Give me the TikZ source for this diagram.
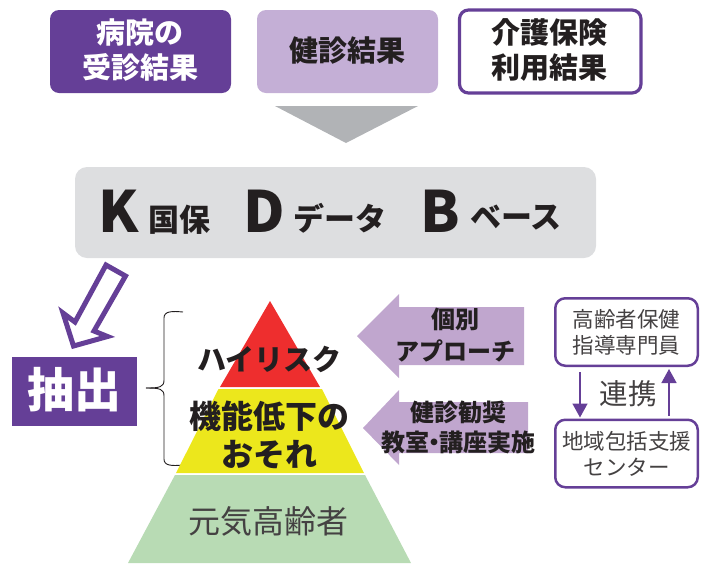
\documentclass[tikz,border=0pt]{standalone}
\usepackage{fontspec}
\usetikzlibrary{arrows.meta}
\setmainfont{Noto Sans CJK JP}
\definecolor{purp}{HTML}{653F97}
\definecolor{lav}{HTML}{C0A6CE}
\definecolor{lavb}{HTML}{C4AFD6}
\definecolor{gbox}{HTML}{DDDEE0}
\definecolor{garr}{HTML}{B1B3B6}
\definecolor{tri1}{HTML}{EE2E2E}
\definecolor{tri2}{HTML}{ECE71C}
\definecolor{tri3}{HTML}{B8DBB4}
\definecolor{ink}{HTML}{231F20}
\tikzset{x=1pt,y=-1pt,
 lbl/.style={inner sep=0pt,align=center,text=ink},
 rr/.style={rounded corners=9pt},
 parr/.style={fill=lav,draw=none},
 tbox/.style={lbl,font=\bfseries\fontsize{29}{35}\selectfont},
 big/.style={lbl,font=\bfseries\fontsize{57}{60}\selectfont},
 small/.style={lbl,font=\bfseries\fontsize{31}{34}\selectfont},
 sbox/.style={draw=purp,line width=2.5pt,rounded corners=10pt,minimum width=142.5pt,minimum height=67.5pt,inner sep=0pt,align=center,text=ink!85,font=\fontsize{21.5}{26}\selectfont},
 link/.style={purp,line width=1.5pt,-{Triangle[length=14pt,width=15pt]}}}
\begin{document}
\begin{tikzpicture}
\useasboundingbox (0,0) rectangle (707,563);
% top boxes
\fill[purp,rr] (50,10) rectangle (231,93);
\node[tbox,text=white] (a) at (140,50) {病院の\\受診結果};
\fill[lavb,rr] (257,10) rectangle (438,93);
\node[tbox] (b) at (347,51) {健診結果};
\draw[purp,line width=3.2pt,rr,fill=white] (459.5,10) rectangle (641,93);
\node[tbox] (c) at (549,50) {介護保険\\利用結果};
% grey down triangle
\fill[garr] (275,106) -- (418,106) -- (346,143) -- cycle;
% KDB
\fill[gbox,rounded corners=12pt] (75,167) rectangle (596,258);
\node[big] (k) at (119,211) {K};
\node[small] (k2) at (179,220) {国保};
\node[big] (d) at (264,211) {D};
\node[small] (d2) at (340,218) {データ};
\node[big] (bb) at (440,211) {B};
\node[small] (b2) at (516,218) {ベース};
% hollow arrow
\draw[purp,line width=5pt,fill=white,line join=miter] (106,265) -- (125.5,276) -- (94,331) -- (107.5,336.5) -- (73.5,346) -- (63,313) -- (75,322) -- cycle;
% extract
\fill[purp] (12,357) rectangle (137,426);
\node[lbl,text=white,font=\bfseries\fontsize{47}{50}\selectfont] (ex) at (74.5,390) {抽出};
% brace
\draw[ink,line width=0.9pt] (183,312) .. controls (172,311) and (164,311) .. (164,318) -- (164,380) .. controls (164,387) and (160,388) .. (146,388);
\draw[ink,line width=0.9pt] (183,465) .. controls (172,466) and (164,466) .. (164,459) -- (164,396) .. controls (164,389) and (160,388) .. (146,388);
% pyramid
\fill[tri1] (270,301) -- (320,387) -- (220,387) -- cycle;
\fill[tri2] (218.5,389) -- (322,389) -- (364,473) -- (176,473) -- cycle;
\fill[tri3] (175,475) -- (365,475) -- (411,563) -- (128,563) -- cycle;
\node[lbl,font=\bfseries\fontsize{29}{32}\selectfont] (h) at (269.5,359) {ハイリスク};
\node[lbl,font=\bfseries\fontsize{32}{38}\selectfont] (m) at (269,435) {機能低下の\\おそれ};
\node[lbl,text=ink!85,font=\fontsize{32}{36}\selectfont] (g) at (268.5,521) {元気高齢者};
% left arrows
\fill[parr] (399,294) -- (399,307) -- (524,307) -- (524,365) -- (399,365) -- (399,378) -- (357,336) -- cycle;
\node[lbl,font=\bfseries\fontsize{24}{32}\selectfont] (a1) at (455,335) {個別\\アプローチ};
\fill[parr] (399,390) -- (399,402) -- (528,402) -- (528,453) -- (399,453) -- (399,465) -- (363,428) -- cycle;
\node[lbl,font=\bfseries\fontsize{24}{30}\selectfont] (a2) at (458,427) {健診勧奨\\教室\makebox[10pt]{・}講座実施};
% right boxes
\node[sbox] (s) at (626.5,332) {高齢者保健\\指導専門員};
\node[sbox] (t) at (626.5,453.5) {地域包括支援\\センター};
\node[lbl,text=ink!85,font=\fontsize{28.5}{30}\selectfont] (r) at (628,394) {連携};
\coordinate (dn) at (580,0);
\coordinate (up) at (669,0);
\draw[link,shorten <=5pt,shorten >=1pt] (s.south -| dn) -- (t.north -| dn);
\draw[link,shorten <=3pt,shorten >=2pt] (t.north -| up) -- (s.south -| up);
\end{tikzpicture}
\end{document}
